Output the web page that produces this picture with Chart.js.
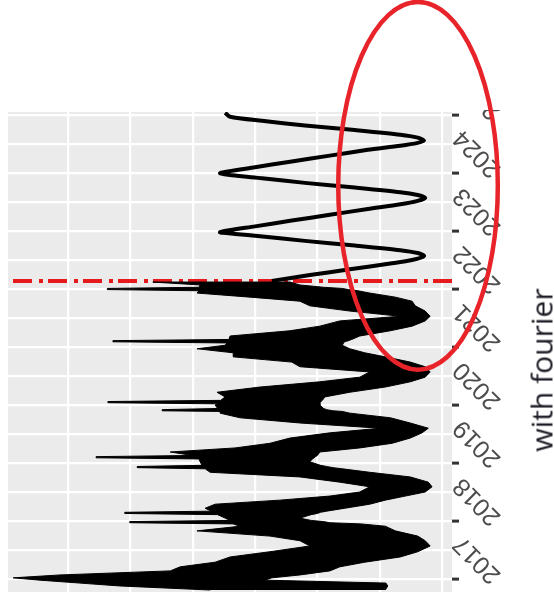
<!DOCTYPE html>
<html><head><meta charset="utf-8">
<script src="https://cdn.jsdelivr.net/npm/chart.js@4.4.1/dist/chart.umd.min.js"></script>
<style>
html,body{margin:0;padding:0;background:#fff;}
#wrap{position:relative;width:554px;height:608px;overflow:hidden;}
#side{position:absolute;left:541px;top:370px;transform:translate(-50%,-50%) rotate(-90deg);white-space:nowrap;font-family:'Open Sans',sans-serif;font-size:30px;color:#1c1c26;}
</style></head><body>
<div id="wrap"><canvas id="c" width="554" height="608"></canvas><div id="side">with fourier</div></div>
<script>
// time axis tick labels
const yearTicks = [2017, 2018, 2019, 2020, 2021, 2022, 2023, 2024, 2025];
// observed series (daily noise band): time, upper edge, lower edge
const histYear = [2016.81,2016.88,2016.93,2016.98,2017.02,2017.07,2017.14,2017.21,2017.29,2017.38,2017.47,2017.57,2017.66,2017.74,2017.83,2017.91,
  2017.95,2017.97,2017.99,2018.01,2018.05,2018.11,2018.13,2018.15,2018.17,
  2018.22,2018.29,2018.36,2018.43,2018.50,2018.59,2018.67,2018.76,2018.84,
  2018.90,2018.92,2018.94,2018.96,2019.02,2019.07,2019.09,2019.11,2019.13,
  2019.19,2019.26,2019.34,2019.43,2019.52,2019.60,2019.69,2019.78,2019.86,
  2019.89,2019.90,2019.92,2019.94,2020.00,2020.02,2020.04,2020.06,2020.08,
  2020.14,2020.22,2020.31,2020.40,2020.48,2020.57,2020.66,2020.74,2020.83,2020.90,2020.97,2021.03,
  2021.07,2021.09,2021.11,2021.13,
  2021.19,2021.28,2021.36,2021.45,2021.53,2021.62,2021.71,2021.79,2021.86,2021.93,
  2021.97,2021.99,2022.01,2022.03,2022.07,2022.12];
const histUpper = [3.72,5.17,5.81,6.45,6.88,6.13,4.36,4.20,3.64,3.40,2.76,2.12,2.28,2.76,3.93,3.24,
  3.35,5.01,5.01,3.40,3.48,3.60,5.09,5.09,3.70,
  3.80,3.64,2.60,1.80,1.32,1.16,1.64,2.28,3.72,
  3.80,4.89,4.89,3.85,3.88,3.90,5.55,5.55,4.00,
  4.36,3.32,2.76,2.44,1.80,0.99,2.28,3.24,3.56,
  3.56,4.49,4.49,3.60,3.64,3.60,5.36,5.36,3.55,
  3.48,3.61,2.92,1.96,1.32,1.16,2.28,2.41,3.35,3.35,3.93,3.48,
  3.45,5.28,5.28,3.42,
  3.40,2.44,1.96,1.64,0.67,1.48,2.12,2.28,3.08,3.93,
  3.90,5.37,5.37,3.90,3.88,4.64];
const histLower = [0.91,0.87,0.90,2.84,2.73,2.28,1.80,1.64,1.24,0.67,0.39,0.19,0.27,0.39,0.75,0.91,
  1.30,1.80,1.90,2.10,2.28,2.10,2.00,1.95,1.85,
  1.56,1.16,0.91,0.59,0.27,0.16,0.22,0.51,1.16,
  1.60,1.75,1.85,1.95,2.12,2.08,2.05,2.03,2.00,
  1.96,1.32,0.80,0.51,0.32,0.22,0.51,0.83,1.48,
  1.60,1.75,1.85,1.90,1.96,1.96,1.96,1.94,1.92,
  1.88,1.48,0.91,0.51,0.27,0.19,0.27,0.51,0.91,1.24,1.48,1.60,
  1.58,1.56,1.50,1.45,
  1.32,0.83,0.48,0.27,0.19,0.27,0.43,0.48,0.75,1.16,
  1.35,1.50,1.60,1.90,2.28,2.44];
// fourier forecast
const fcYear = [2022.14,2022.24,2022.34,2022.44,2022.50,2022.57,2022.62,2022.67,2022.75,2022.83,2022.91,2022.95,2022.98,2023.08,2023.18,2023.28,2023.38,2023.46,2023.52,2023.57,2023.62,2023.67,2023.75,2023.83,2023.91,2023.96,2024.00,2024.10,2024.20,2024.30,2024.40,2024.47,2024.52,2024.56,2024.61,2024.66,2024.74,2024.82,2024.90,2024.97,2025.04];
const fcValue = [2.73,2.12,1.48,0.83,0.48,0.29,0.39,0.67,1.40,2.20,2.92,3.32,3.56,3.00,2.41,1.80,1.19,0.67,0.39,0.27,0.39,0.67,1.40,2.20,2.89,3.37,3.56,3.00,2.41,1.80,1.19,0.67,0.39,0.29,0.39,0.67,1.40,2.20,2.89,3.40,3.48];
// forecast cutoff
const cutoffYear = 2022.14;
// axis extents
const valueMin = -0.16, valueMax = 6.963;
const yearMin = 2016.776, yearMax = 2025.052;
// highlight ellipse (data units)
const ellipseYear = 2023.78, ellipseValue = 0.385, ellipseYearRadius = 3.17, ellipseValueRadius = 1.28;

const band = histYear.map((t,i)=>({x: histUpper[i], y: t}))
  .concat(histYear.map((t,i)=>({x: histLower[i], y: t})).reverse());
const forecast = fcYear.map((t,i)=>({x: fcValue[i], y: t}));
const cutoff = [{x: valueMin, y: cutoffYear}, {x: valueMax, y: cutoffYear}];

const isYear = v => Math.abs(v - Math.round(v)) < 1e-6 && yearTicks.includes(Math.round(v));

const panelPlugin = {
  id: 'panel',
  beforeDraw(chart){
    const {ctx, chartArea: a} = chart;
    ctx.save();
    ctx.fillStyle = '#EBEBEB';
    ctx.fillRect(a.left, a.top, a.right - a.left, a.bottom - a.top);
    ctx.restore();
    ctx.save();
    ctx.beginPath();
    ctx.rect(0, a.top - 2, chart.width, chart.height);
    ctx.clip();
  },
  beforeDatasetsDraw(chart){ chart.ctx.restore(); },
  afterDraw(chart){
    const {ctx} = chart; const xs = chart.scales.x, ys = chart.scales.y;
    const cx = xs.getPixelForValue(ellipseValue), cy = ys.getPixelForValue(ellipseYear);
    const rx = Math.abs(xs.getPixelForValue(ellipseValue + ellipseValueRadius) - cx);
    const ry = Math.abs(ys.getPixelForValue(ellipseYear + ellipseYearRadius) - cy);
    ctx.save();
    ctx.strokeStyle = '#E8232A'; ctx.lineWidth = 4.5;
    ctx.beginPath(); ctx.ellipse(cx, cy, rx, ry, 0, 0, Math.PI*2); ctx.stroke();
    ctx.restore();
  }
};

new Chart(document.getElementById('c'), {
  type: 'line',
  data: { datasets: [
    { data: band, borderColor: '#000', backgroundColor: '#000', borderWidth: 1, fill: 'shape', pointRadius: 0, tension: 0 },
    { data: forecast, borderColor: '#000', borderWidth: 4, fill: false, pointRadius: 0, tension: 0.25 },
    { data: cutoff, borderColor: '#E41A1C', borderWidth: 4, borderDash: [19, 5, 4, 7], fill: false, pointRadius: 0 }
  ]},
  options: {
    responsive: false, animation: false, devicePixelRatio: 1, events: [],
    layout: { padding: { left: 8, top: 112, right: 0, bottom: 16 } },
    plugins: { legend: { display: false }, tooltip: { enabled: false }, title: { display: false } },
    scales: {
      x: { type: 'linear', reverse: true, min: valueMin, max: valueMax,
        ticks: { display: false, stepSize: 1, includeBounds: false },
        grid: { color: '#FFFFFF', lineWidth: 2.2, drawTicks: false },
        border: { display: false } },
      y: { type: 'linear', position: 'right', min: yearMin, max: yearMax,
        ticks: { stepSize: 0.5, includeBounds: false, autoSkip: false, minRotation: 135, maxRotation: 135,
          crossAlign: 'near', padding: 38, labelOffset: 0, color: '#4D4D4D',
          font: { family: 'Liberation Sans', size: 25 },
          callback: v => isYear(v) ? String(Math.round(v)) : '' },
        grid: { color: '#FFFFFF', lineWidth: 2.2, drawTicks: true, tickLength: 7, tickWidth: 3,
          tickColor: c => isYear(c.tick.value) ? '#333333' : 'rgba(0,0,0,0)' },
        border: { display: false },
        afterFit: s => { s.width = 102; s.paddingTop = 0; s.paddingBottom = 0; } }
    }
  },
  plugins: [panelPlugin]
});
</script>
</body></html>
